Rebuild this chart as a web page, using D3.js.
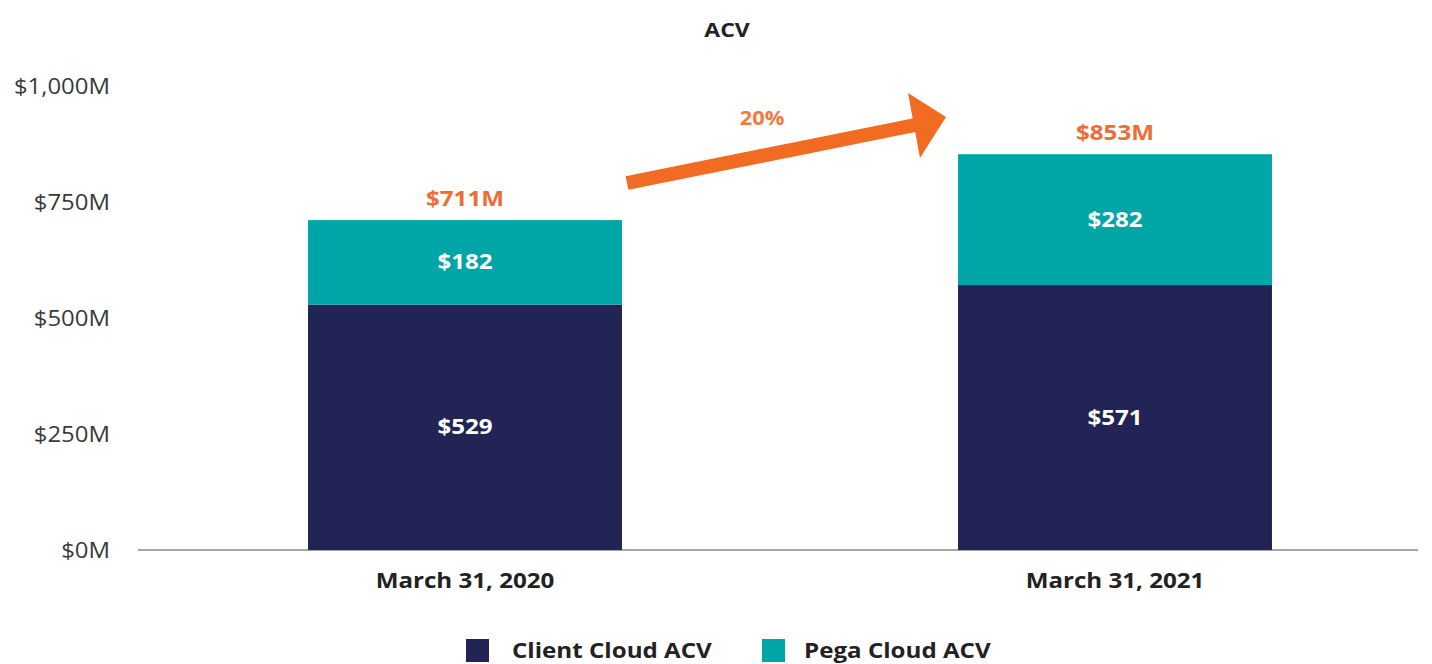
<html>
<head>
    <style>
        body, html { margin: 0; padding: 0; background: #fff; font-family: "Open Sans", Arial, sans-serif; }
        #container { width: 1432px; height: 664px; }
    </style>
    <script src="https://cdn.jsdelivr.net/npm/d3@7"></script>
</head>
<body>
    <div id="container"></div>
    <script>
        const dates = ["March 31, 2020", "March 31, 2021"];
        const clientCloud = [529, 571];
        const pegaCloud = [182, 282];
        const totals = ["$711M", "$853M"];
        const yTicks = [0, 250, 500, 750, 1000];
        const growth = "20%";
        const seriesNames = ["Client Cloud ACV", "Pega Cloud ACV"];

        const width = 1432, height = 664;
        const navy = "#212454", teal = "#00a5a6", orange = "#f26b22";
        const sx = 1.15; // text in the source is a bit wide

        const svg = d3.select("#container").append("svg")
            .attr("width", width).attr("height", height)
            .style("font-family", "'Open Sans', Arial, sans-serif");

        const x = d3.scaleBand().domain(dates).range([140, 1440])
            .paddingInner(0.517).paddingOuter(0.2585);
        const y = d3.scaleLinear().domain([0, 1000]).range([550, 86]);

        // helper for bold labels
        function label(g, px, py, txt, size, fill, anchor) {
            return g.append("text")
                .attr("transform", `translate(${px},${py}) scale(${sx},1)`)
                .attr("text-anchor", anchor || "middle")
                .attr("font-weight", "bold")
                .attr("font-size", size)
                .attr("fill", fill)
                .text(txt);
        }

        // title
        label(svg, 727, 37, "ACV", 20, "#222");

        // y axis labels only
        const yAxis = svg.append("g").attr("transform", "translate(110,0)")
            .call(d3.axisLeft(y).tickValues(yTicks).tickSize(0).tickPadding(0)
                .tickFormat(d => "$" + d3.format(",")(d) + "M"));
        yAxis.select(".domain").remove();
        yAxis.selectAll(".tick text")
            .attr("font-family", "'Open Sans', Arial, sans-serif")
            .attr("font-size", 21)
            .attr("fill", "#3a3a3a")
            .attr("dy", "0.35em")
            .attr("transform", "scale(1.14,1)");

        // baseline
        svg.append("line").attr("x1", 138).attr("x2", 1418)
            .attr("y1", y(0)).attr("y2", y(0))
            .attr("stroke", "#888").attr("stroke-width", 1.5);

        const rows = dates.map((d, i) => ({ date: d, client: clientCloud[i], pega: pegaCloud[i], total: totals[i] }));
        const stack = d3.stack().keys(["client", "pega"])(rows);
        const colors = [navy, teal];

        stack.forEach((layer, li) => {
            svg.append("g").selectAll("rect").data(layer).join("rect")
                .attr("x", d => x(d.data.date))
                .attr("width", x.bandwidth())
                .attr("y", d => y(d[1]))
                .attr("height", d => y(d[0]) - y(d[1]))
                .attr("fill", colors[li]);
            const g = svg.append("g");
            layer.forEach(d => {
                label(g, x(d.data.date) + x.bandwidth() / 2, (y(d[0]) + y(d[1])) / 2 + 7,
                    "$" + (d[1] - d[0]), 21, "#fff");
            });
        });

        // totals
        const tg = svg.append("g");
        stack[1].forEach(d => {
            label(tg, x(d.data.date) + x.bandwidth() / 2, y(d[1]) - 14, d.data.total, 21, "#ee6d36");
        });

        // x labels
        const xg = svg.append("g");
        dates.forEach(d => label(xg, x(d) + x.bandwidth() / 2, 588, d, 21, "#222"));

        // growth arrow
        const ax0 = 627, ay0 = 183, ax1 = 930, ay1 = 122;
        svg.append("line").attr("x1", ax0).attr("y1", ay0).attr("x2", ax1).attr("y2", ay1)
            .attr("stroke", orange).attr("stroke-width", 14);
        svg.append("path").attr("d", "M908,93 L946,117 L920,158 Z").attr("fill", orange);
        label(svg, 762, 125, growth, 19, "#f07a40");

        // legend
        const legendX = [466, 762];
        const legendTextX = [512, 804];
        const lg = svg.append("g");
        seriesNames.forEach((name, i) => {
            lg.append("rect").attr("x", legendX[i]).attr("y", 639)
                .attr("width", 23).attr("height", 23).attr("fill", colors[i]);
            label(lg, legendTextX[i], 658, name, 21, "#222", "start");
        });
    </script>
</body>
</html>
